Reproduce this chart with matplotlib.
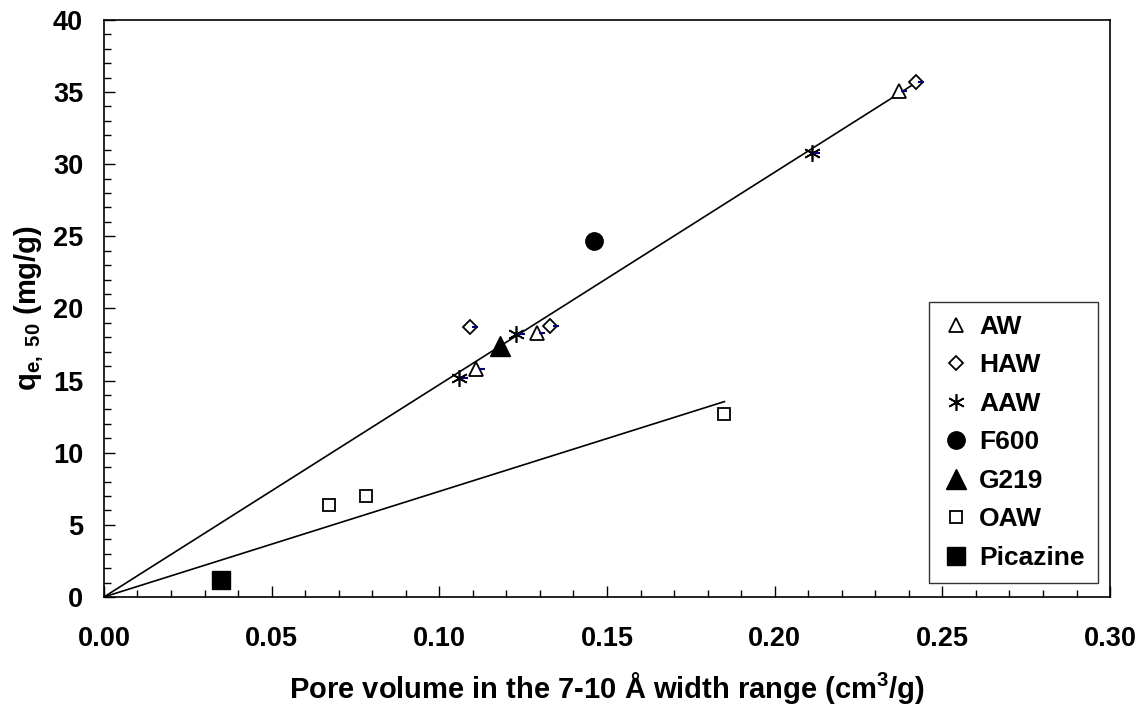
import numpy as np
import matplotlib
matplotlib.use('Agg')
import matplotlib.pyplot as plt
import matplotlib.transforms as mtransforms

# pore volume (cm3/g) and q_e,50 (mg/g) per carbon family
aw_x = [0.111, 0.129, 0.237]
aw_y = [15.8, 18.3, 35.1]
haw_x = [0.109, 0.133, 0.242]
haw_y = [18.7, 18.8, 35.7]
aaw_x = [0.106, 0.123, 0.211]
aaw_y = [15.2, 18.2, 30.8]
f600_x = [0.146]
f600_y = [24.7]
g219_x = [0.118]
g219_y = [17.4]
oaw_x = [0.067, 0.078, 0.185]
oaw_y = [6.4, 7.0, 12.7]
pica_x = [0.035]
pica_y = [1.15]

# linear fits through the origin
fit_hi_x = [0.0, 0.242]
fit_hi_slope = 147.2
fit_lo_x = [0.0, 0.185]
fit_lo_slope = 73.2

plt.rcParams['font.family'] = ['Liberation Sans', 'DejaVu Sans']
plt.rcParams['font.weight'] = 'bold'
plt.rcParams['mathtext.fontset'] = 'custom'
plt.rcParams['mathtext.rm'] = 'Liberation Sans:bold'
plt.rcParams['mathtext.it'] = 'Liberation Sans:bold'

fig = plt.figure(figsize=(11.41, 7.09), dpi=100)
ax = fig.add_axes([0.0911, 0.158, 0.8818, 0.814])

ax.plot(fit_hi_x, [fit_hi_slope * v for v in fit_hi_x], color='black', lw=1.2, zorder=2)
ax.plot(fit_lo_x, [fit_lo_slope * v for v in fit_lo_x], color='black', lw=1.2, zorder=2)

ax.plot(aw_x, aw_y, ls='none', marker='^', ms=9.5, mfc='white', mec='black', mew=1.3, label='AW', zorder=3)
ax.plot(haw_x, haw_y, ls='none', marker='D', ms=7.5, mfc='white', mec='black', mew=1.3, label='HAW', zorder=3)
ax.plot(aaw_x, aaw_y, ls='none', marker=(6, 2, 0), ms=12, color='black', mew=1.2, label='AAW', zorder=3)
ax.plot(f600_x, f600_y, ls='none', marker='o', ms=12.5, color='black', label='F600', zorder=3)
ax.plot(g219_x, g219_y, ls='none', marker='^', ms=14, color='black', label='G219', zorder=3)
ax.plot(oaw_x, oaw_y, ls='none', marker='s', ms=8, mfc='white', mec='black', mew=1.3, label='OAW', zorder=3)
ax.plot(pica_x, pica_y, ls='none', marker='s', ms=12.5, color='black', label='Picazine', zorder=3)

# little navy dashes beside the AW / HAW / AAW points
shift = mtransforms.offset_copy(ax.transData, fig=fig, x=4, y=0, units='points')
for xs, ys in [(aw_x, aw_y), (haw_x, haw_y), (aaw_x, aaw_y)]:
    ax.plot(xs, ys, ls='none', marker='_', ms=4, mew=1.5, color='#000080', transform=shift, zorder=4)

ax.set_xlim(0, 0.30)
ax.set_ylim(0, 40)
ax.set_xticks(np.arange(0, 0.301, 0.05))
ax.set_xticks(np.arange(0, 0.301, 0.01), minor=True)
ax.set_yticks(np.arange(0, 41, 5))
ax.set_yticks(np.arange(0, 41, 1), minor=True)
ax.set_xticklabels(['%.2f' % v for v in np.arange(0, 0.301, 0.05)])

ax.tick_params(which='both', direction='in', top=False, right=False, labelsize=19.5, width=1)
ax.tick_params(which='major', length=8)
ax.tick_params(which='minor', length=5)
ax.tick_params(axis='x', pad=21)
ax.tick_params(axis='y', pad=15)
for s in ax.spines.values():
    s.set_linewidth(1.2)

ax.set_xlabel('Pore volume in the 7-10 \u00c5 width range (cm$^{3}$/g)', fontsize=21, fontweight='bold', labelpad=13)
ax.set_ylabel('q$_{\\mathrm{e,\\ 50}}$ (mg/g)', fontsize=21, fontweight='bold', labelpad=5)

leg = ax.legend(loc='lower right', bbox_to_anchor=(0.988, 0.024), fontsize=19, frameon=True,
                fancybox=False, edgecolor='black', handlelength=1.0, handletextpad=0.4,
                labelspacing=0.55, borderpad=0.5, borderaxespad=0, numpoints=1)
leg.get_frame().set_linewidth(1.0)
for t in leg.get_texts():
    t.set_fontweight('bold')

plt.savefig('out.png', dpi=100)
